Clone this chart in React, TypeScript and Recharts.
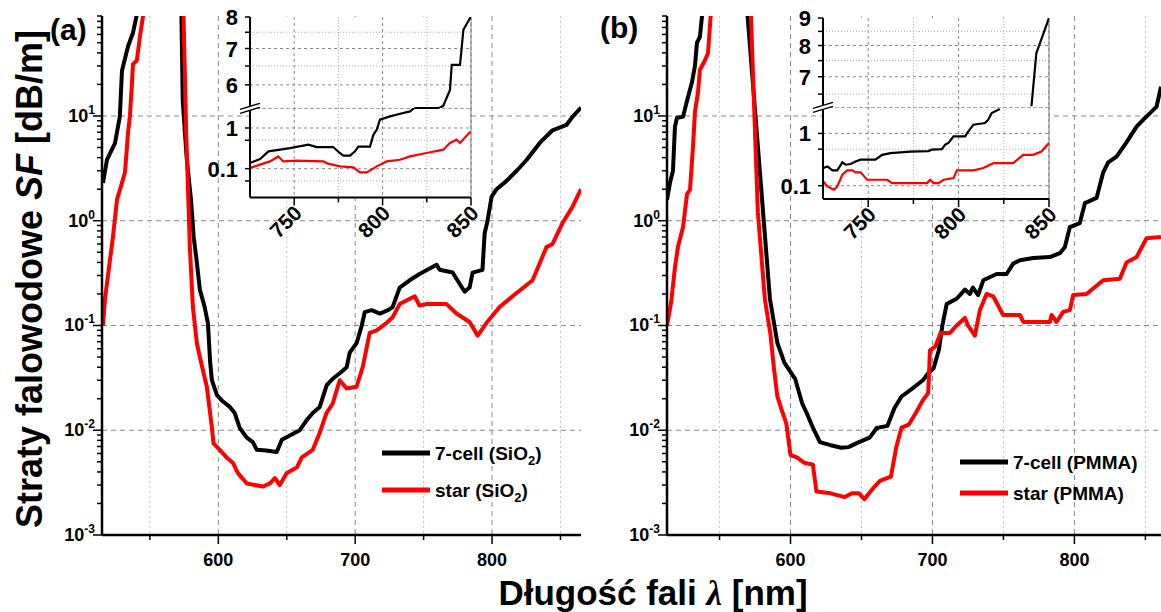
import React from 'react';
import { LineChart, Line, XAxis, YAxis, CartesianGrid, ReferenceLine } from 'recharts';

type Pt = [number, number | null];

const FONT = '"Liberation Sans", Arial, Helvetica, sans-serif';

// panel (a) - SiO2 fibres, [wavelength nm, loss dB/m]
const sio2Cell: Pt[] = [
  [515.7, 2.3], [518.6, 3.8], [524.5, 5.5], [528, 9.8], [529.6, 27], [534, 46], [537.6, 62], [541, 100],
  [556, null],
  [573, 100], [574, 14], [575.6, 6.9], [577, 3.8], [580, 1.6], [582, 0.7], [584.3, 0.4], [586.5, 0.22],
  [590, 0.15], [592.4, 0.105], [594, 0.045], [595.3, 0.03], [599, 0.0216], [603, 0.019], [608.4, 0.0167],
  [612, 0.0146], [615.7, 0.0105], [620.8, 0.0085], [625.2, 0.0077], [628.1, 0.0065], [635, 0.0064],
  [642.7, 0.0062], [646.4, 0.0081], [652.2, 0.0089], [659.5, 0.01], [664.6, 0.0125], [669, 0.0146],
  [674.1, 0.0167], [679.2, 0.027], [683.6, 0.031], [688.7, 0.035], [693.8, 0.04], [696, 0.055],
  [701.1, 0.068], [704.8, 0.1], [707, 0.134], [712, 0.14], [718, 0.13], [724, 0.14], [727.4, 0.15],
  [732.5, 0.23], [739.8, 0.27], [747, 0.31], [759.5, 0.38], [761.7, 0.34], [771.2, 0.32], [776.3, 0.25],
  [780, 0.21], [783.6, 0.23], [785.8, 0.32], [793, 0.34], [794.6, 0.76], [796.7, 1.0], [799.7, 1.7],
  [803.3, 2.0], [810.6, 2.4], [818, 3.0], [825.2, 3.8], [834.7, 5.5], [844.2, 7.3], [854.4, 8.2],
  [858.8, 9.8], [865, 12],
];
const sio2Star: Pt[] = [
  [515.7, 0.1], [517.2, 0.18], [520.8, 0.42], [523, 0.7], [526, 1.6], [529.6, 2.3], [531.8, 2.9], [534, 6.9],
  [535.4, 10], [536.9, 20.6], [537.6, 31], [540.5, 34], [542.7, 57], [545.5, 100],
  [560, null],
  [574.5, 100], [576.5, 7], [579.2, 0.56], [581.4, 0.15], [584.3, 0.068], [586.5, 0.05], [591.6, 0.026],
  [595.3, 0.0106], [596.5, 0.0075], [601, 0.0065], [606, 0.0055], [610.6, 0.0049], [614.3, 0.0039],
  [620.8, 0.0031], [632.5, 0.0029], [637.6, 0.0031], [641.3, 0.0035], [644.9, 0.003], [650, 0.0039],
  [657.3, 0.0044], [661, 0.0055], [669, 0.0065], [674, 0.0094], [679, 0.0146], [683.6, 0.018],
  [688.7, 0.03], [693.8, 0.025], [701, 0.026], [705.5, 0.04], [710.6, 0.085], [715.7, 0.09], [723, 0.106],
  [727.4, 0.12], [732.5, 0.16], [743.5, 0.19], [747, 0.155], [752, 0.16], [766.8, 0.16], [774, 0.13],
  [783.6, 0.108], [789.5, 0.08], [796, 0.106], [805.5, 0.15], [815, 0.19], [829.6, 0.27], [839.8, 0.56],
  [844.2, 0.6], [851.5, 0.95], [858.8, 1.36], [865, 2.0],
];

// panel (b) - PMMA fibres
const pmmaCell: Pt[] = [
  [513, 1.58], [515.1, 2.3], [517.2, 3.0], [518.6, 7.9], [520, 9.6], [524.3, 9.8], [527.1, 14], [530.6, 21],
  [532.7, 30], [534.1, 50], [536.2, 57], [538, 100],
  [555, null],
  [569.5, 100], [585.5, 0.18], [590.75, 0.068], [595.75, 0.044], [603.25, 0.031], [608.25, 0.018],
  [612, 0.014], [615.75, 0.0106], [620.75, 0.0077], [628.25, 0.0072], [635.75, 0.0068], [640.75, 0.0069],
  [648.25, 0.0077], [655.75, 0.0085], [660.75, 0.0105], [668.25, 0.011], [673.25, 0.0163], [678.25, 0.021],
  [685.75, 0.025], [693.25, 0.03], [697, 0.035], [700.75, 0.039], [704.5, 0.058], [707, 0.1], [710, 0.16],
  [717, 0.18], [722.9, 0.22], [726.4, 0.2], [728.5, 0.23], [732.2, 0.195], [735.8, 0.27], [745.2, 0.31],
  [752.2, 0.31], [756.9, 0.39], [761.6, 0.42], [771, 0.44], [782.7, 0.45], [789.8, 0.49], [793.3, 0.56],
  [796.8, 0.87], [803.8, 0.95], [807.4, 1.47], [815.6, 1.65], [820.3, 2.9], [823.8, 3.6], [829.7, 4.1],
  [836.7, 5.6], [843.8, 7.9], [848.4, 9.2], [853.1, 10.6], [857.9, 12.3], [861, 19],
];
const pmmaStar: Pt[] = [
  [513, 0.1], [514.5, 0.13], [516, 0.17], [518.6, 0.36], [520.7, 0.56], [524.3, 0.87], [527.1, 1.8],
  [529.2, 1.97], [531.3, 5.1], [532.7, 11], [534.8, 16.7], [536.2, 27.6], [539.8, 34], [541.9, 40], [544, 100],
  [558, null],
  [572, 100], [577, 1.2], [582, 0.175], [585.75, 0.085], [588.25, 0.04], [590.75, 0.021], [594.5, 0.0146],
  [597, 0.0117], [600, 0.0058], [604.5, 0.0055], [609.5, 0.0049], [615.75, 0.0047], [618.25, 0.0026],
  [628.25, 0.0025], [638.25, 0.0023], [643.25, 0.0025], [648.25, 0.0025], [652, 0.0022], [658.25, 0.0028],
  [663.25, 0.0033], [670.75, 0.0036], [674.5, 0.0069], [678.25, 0.0106], [683.25, 0.0113], [688.25, 0.0146],
  [693.25, 0.0194], [697, 0.0226], [698.25, 0.058], [702, 0.063], [705.75, 0.085], [712.3, 0.085],
  [717, 0.1], [722.9, 0.118], [725, 0.1], [729.9, 0.08], [733.4, 0.14], [738.1, 0.2], [742.8, 0.19],
  [749.8, 0.126], [761.6, 0.126], [764, 0.108], [782.7, 0.108], [783.9, 0.126], [787.4, 0.108],
  [792.1, 0.135], [796.8, 0.14], [799.1, 0.195], [808.5, 0.2], [820.3, 0.27], [832, 0.28], [836.7, 0.4],
  [843.8, 0.45], [850.8, 0.68], [861, 0.7],
];

// insets (broken y axis)
const insetSio2Cell: Pt[] = [
  [725, 0.138], [730.7, 0.173], [735.4, 0.267], [742, 0.293], [747.6, 0.32], [758, 0.39], [762.7, 0.34],
  [772.1, 0.34], [775.9, 0.24], [777.8, 0.21], [781.6, 0.21], [784.4, 0.267], [786.3, 0.35], [792.9, 0.35],
  [794.8, 0.685], [796.7, 0.91], [798.5, 1.6], [804.2, 1.93], [811.7, 2.33], [815.5, 2.56], [818, 3.2],
  [826, 3.9], [832, 4.6], [834.3, 5.49], [838.1, 5.87], [839.1, 6.53], [843.8, 6.53], [845.7, 7.58],
  [849.8, 8.0],
];
const insetSio2Star: Pt[] = [
  [725, 0.104], [730.7, 0.126], [736.3, 0.151], [741, 0.2], [743.8, 0.151], [751.4, 0.157], [766.5, 0.151],
  [769.2, 0.133], [775.9, 0.114], [783.4, 0.108], [787.2, 0.081], [791, 0.081], [796.7, 0.114],
  [802.3, 0.151], [809.8, 0.166], [815.5, 0.2], [824.9, 0.243], [834.3, 0.293], [838.1, 0.43],
  [841.9, 0.52], [843.8, 0.43], [849.8, 0.825],
];
const insetPmmaCell: Pt[] = [
  [725.2, 0.218], [727.4, 0.234], [730.2, 0.196], [732.9, 0.196], [735.7, 0.279], [737.5, 0.252],
  [740.3, 0.26], [743, 0.291], [745.8, 0.314], [754, 0.314], [757.7, 0.39], [762.3, 0.42], [773.3, 0.45],
  [783.4, 0.46], [785.2, 0.49], [790.7, 0.5], [792.6, 0.61], [794.4, 0.66], [797.2, 0.876], [803.6, 0.876],
  [805.4, 1.09], [808.2, 1.47], [814.6, 1.58], [816.4, 1.83], [818.3, 2.45], [822.8, 2.93],
  [830, null],
  [840.3, 6.17], [843, 7.74], [850, 9.0],
];
const insetPmmaStar: Pt[] = [
  [725.2, 0.121], [727.4, 0.097], [731.1, 0.084], [732.9, 0.097], [735.7, 0.162], [738.4, 0.196],
  [741.2, 0.196], [743, 0.18], [745.8, 0.18], [749.4, 0.13], [760.5, 0.13], [763.2, 0.112], [782.5, 0.112],
  [784.3, 0.13], [786.1, 0.112], [788.9, 0.112], [791.7, 0.13], [797.2, 0.14], [799, 0.196], [808.2, 0.196],
  [813.7, 0.218], [819.2, 0.27], [830.2, 0.27], [835.7, 0.39], [841.2, 0.39], [845.8, 0.45], [850, 0.655],
];

// ticks
const decades = [0.001, 0.01, 0.1, 1, 10];
const minorSteps = [2, 3, 4, 5, 6, 7, 8, 9];
const gridDecades = [0.01, 0.1, 1, 10];
const xMajor = [600, 700, 800];
const xMinor = [550, 650, 750, 850];
const insetMajor = [750, 800, 850];
const insetMinor = [775, 825];

const legendA = ['7-cell (SiO', 'star (SiO'];
const legendB = ['7-cell (PMMA)', 'star (PMMA)'];

const yTicks = decades.flatMap((d) => [d, ...minorSteps.map((m) => d * m)]).filter((v) => v <= 90);
const xTicks = [...xMajor, ...xMinor].sort((a, b) => a - b);

const rows = (pts: Pt[]) => pts.map(([nm, v]) => ({ nm, v }));

function MainYTick(props: any) {
  const { x, y, payload } = props;
  const v = payload.value;
  const major = decades.includes(v);
  const exp = Math.round(Math.log10(v));
  return (
    <g>
      <line x1={x - (major ? 9 : 5)} x2={x} y1={y} y2={y} stroke="#000" strokeWidth={1.5} />
      {major && (
        <text x={x - 7} y={y + 6} textAnchor="end" fontSize={18} fontWeight="bold" fontFamily={FONT} fill="#000">
          10<tspan dy={-8} fontSize={12}>{exp}</tspan>
        </text>
      )}
    </g>
  );
}

function MainXTick(props: any) {
  const { x, y, payload } = props;
  const v = payload.value;
  const major = xMajor.includes(v);
  return (
    <g>
      <line x1={x} x2={x} y1={y} y2={y + (major ? 9 : 5)} stroke="#000" strokeWidth={1.5} />
      {major && (
        <text x={x} y={y + 31} textAnchor="middle" fontSize={18} fontWeight="bold" fontFamily={FONT} fill="#000">
          {v}
        </text>
      )}
    </g>
  );
}

function MainPanel({ cell, star, xDomain, left, width, yW, rightM }: any) {
  return (
    <div style={{ position: 'absolute', left, top: 0 }}>
      <LineChart width={width} height={575} margin={{ top: 16, right: rightM, bottom: 0, left: 0 }}>
        <CartesianGrid horizontalValues={gridDecades} verticalValues={xMajor} stroke="#8a8a8a" strokeDasharray="5 4" />
        <CartesianGrid horizontal={false} verticalValues={xMinor} stroke="#c4c4c4" strokeDasharray="2 3" />
        <XAxis type="number" dataKey="nm" domain={xDomain} allowDataOverflow ticks={xTicks} interval={0}
          tickSize={0} tickMargin={0} tickLine={false} tick={MainXTick} height={40}
          axisLine={{ stroke: '#000', strokeWidth: 2.5 }} />
        <YAxis type="number" scale="log" domain={[0.001, 90]} allowDataOverflow ticks={yTicks} interval={0}
          tickSize={0} tickMargin={0} tickLine={false} tick={MainYTick} width={yW}
          axisLine={{ stroke: '#000', strokeWidth: 2.5 }} />
        <Line data={rows(cell)} dataKey="v" stroke="#000" strokeWidth={4} dot={false} strokeLinejoin="round"
          isAnimationActive={false} />
        <Line data={rows(star)} dataKey="v" stroke="#ff0000" strokeWidth={4} dot={false} strokeLinejoin="round"
          isAnimationActive={false} />
      </LineChart>
    </div>
  );
}

type Part = { domain: [number, number]; ticks: number[]; labels: number[]; dashed: number[]; dotted: number[] };
type InsetCfg = { plotLeft: number; plotW: number; upTop: number; breakY: number; bottom: number; upper: Part; lower: Part };

const insetA: InsetCfg = {
  plotLeft: 250, plotW: 221, upTop: 17.3, breakY: 108.3, bottom: 197.7,
  upper: { domain: [5.44, 8], ticks: [6, 6.5, 7, 7.5, 8], labels: [6, 7, 8], dashed: [6, 7], dotted: [6.5, 7.5] },
  lower: { domain: [0.0197, 3.1], ticks: [0.05, 0.1, 0.5, 1], labels: [0.1, 1], dashed: [0.1, 1], dotted: [0.05, 0.5] },
};
const insetB: InsetCfg = {
  plotLeft: 823, plotW: 226, upTop: 18.3, breakY: 107.3, bottom: 199.3,
  upper: { domain: [6.15, 9], ticks: [6.5, 7, 7.5, 8, 8.5, 9], labels: [7, 8, 9], dashed: [7, 8], dotted: [6.5, 7.5, 8.5] },
  lower: { domain: [0.0557, 3.2], ticks: [0.1, 0.5, 1], labels: [0.1, 1], dashed: [0.1, 1], dotted: [0.5] },
};

const insetYTick = (labels: number[]) => (props: any) => {
  const { x, y, payload } = props;
  const v = payload.value;
  return (
    <g>
      <line x1={x - 5} x2={x} y1={y} y2={y} stroke="#000" strokeWidth={1.5} />
      {labels.includes(v) && (
        <text x={x - 12} y={y + 8} textAnchor="end" fontSize={22} fontWeight="bold" fontFamily={FONT} fill="#000">
          {v}
        </text>
      )}
    </g>
  );
};

function InsetXTick(props: any) {
  const { x, y, payload } = props;
  const v = payload.value;
  const major = insetMajor.includes(v);
  return (
    <g>
      <line x1={x} x2={x} y1={y} y2={y + (major ? 8 : 5)} stroke="#000" strokeWidth={1.5} />
      {major && (
        <text transform={`translate(${x + 9},${y + 17}) rotate(-45)`} textAnchor="end" fontSize={21}
          fontWeight="bold" fontFamily={FONT} fill="#000">
          {v}
        </text>
      )}
    </g>
  );
}

function Inset({ cell, star, cfg }: { cell: Pt[]; star: Pt[]; cfg: InsetCfg }) {
  const { plotLeft, plotW, upTop, breakY, bottom, upper, lower } = cfg;
  const lowMax = lower.domain[1];
  const upMin = upper.domain[0];
  const lowPart = (pts: Pt[]) =>
    pts.map(([nm, v]) => ({ nm, v: v == null || v >= upMin ? null : Math.min(v, lowMax) }));
  const upPart = (pts: Pt[]) =>
    pts.map(([nm, v]) => ({ nm, v: v == null || v <= lowMax ? null : Math.max(v, upMin) }));
  const yW = 60;
  const rm = 26;
  const topPad = 14;
  const chartW = yW + plotW + rm;
  const halves = [
    { part: upper, top: upTop - topPad, h: topPad + breakY - upTop, mt: topPad, split: upPart, showX: false },
    { part: lower, top: breakY, h: bottom - breakY + 60, mt: 0, split: lowPart, showX: true },
  ];
  return (
    <>
      {halves.map((hf, i) => (
        <div key={i} style={{ position: 'absolute', left: plotLeft - yW, top: hf.top }}>
          <LineChart width={chartW} height={hf.h} margin={{ top: hf.mt, right: rm, bottom: 0, left: 0 }}>
            <CartesianGrid fill="#fff" horizontalValues={hf.part.dashed} verticalValues={insetMajor}
              stroke="#8a8a8a" strokeDasharray="3 3" />
            <CartesianGrid horizontalValues={hf.part.dotted} verticalValues={insetMinor}
              stroke="#b0b0b0" strokeDasharray="1 2" />
            <XAxis type="number" dataKey="nm" domain={[725, 850]} allowDataOverflow hide={!hf.showX}
              ticks={[...insetMajor, ...insetMinor].sort((a, b) => a - b)} interval={0} tickSize={0} tickMargin={0}
              tickLine={false} tick={InsetXTick} height={60} axisLine={{ stroke: '#000', strokeWidth: 2 }} />
            <YAxis type="number" scale="log" domain={hf.part.domain} allowDataOverflow ticks={hf.part.ticks}
              interval={0} tickSize={0} tickMargin={0} tickLine={false} tick={insetYTick(hf.part.labels)} width={yW}
              axisLine={{ stroke: '#000', strokeWidth: 2 }} />
            <ReferenceLine x={850} stroke="#7a7a7a" strokeWidth={1} />
            {hf.showX && <ReferenceLine y={lowMax} stroke="#555" strokeDasharray="4 2" strokeWidth={1.2} />}
            <Line data={hf.split(cell)} dataKey="v" stroke="#000" strokeWidth={2.2} dot={false}
              isAnimationActive={false} />
            <Line data={hf.split(star)} dataKey="v" stroke="#ff0000" strokeWidth={2.2} dot={false}
              isAnimationActive={false} />
          </LineChart>
        </div>
      ))}
    </>
  );
}

function BreakMark({ x, y }: { x: number; y: number }) {
  return (
    <g>
      <polygon points={`${x - 10},${y + 1} ${x + 10},${y - 5} ${x + 10},${y - 1} ${x - 10},${y + 5}`} fill="#fff" />
      <line x1={x - 10} y1={y + 1} x2={x + 10} y2={y - 5} stroke="#000" strokeWidth={1.4} />
      <line x1={x - 10} y1={y + 5} x2={x + 10} y2={y - 1} stroke="#000" strokeWidth={1.4} />
    </g>
  );
}

function LegendRow({ x, y, color, children }: any) {
  return (
    <g>
      <line x1={x} x2={x + 48} y1={y} y2={y} stroke={color} strokeWidth={5} />
      <text x={x + 53} y={y + 7} fontSize={19}>{children}</text>
    </g>
  );
}

export default function App() {
  return (
    <div style={{ position: 'absolute', left: 0, top: 0, width: 1161, height: 612, background: '#fff', overflow: 'hidden' }}>
      <MainPanel cell={sio2Cell} star={sio2Star} xDomain={[515, 865]} left={0} width={590} yW={102} rightM={9} />
      <MainPanel cell={pmmaCell} star={pmmaStar} xDomain={[513, 861]} left={580} width={581} yW={87} rightM={0} />
      <Inset cell={insetSio2Cell} star={insetSio2Star} cfg={insetA} />
      <Inset cell={insetPmmaCell} star={insetPmmaStar} cfg={insetB} />
      <svg width={1161} height={612} style={{ position: 'absolute', left: 0, top: 0, pointerEvents: 'none' }}
        fontFamily={FONT} fontWeight="bold" fill="#000">
        <text transform="translate(42,279) rotate(-90)" textAnchor="middle" fontSize={36}>
          Straty falowodowe <tspan fontStyle="italic">SF</tspan> [dB/m]
        </text>
        <text x={653} y={605} textAnchor="middle" fontSize={35}>
          Długość fali <tspan fontFamily='"Liberation Serif", serif' fontStyle="italic">λ</tspan> [nm]
        </text>
        <text x={50} y={40} fontSize={30}>(a)</text>
        <text x={600} y={38} fontSize={30}>(b)</text>
        <BreakMark x={insetA.plotLeft} y={insetA.breakY} />
        <BreakMark x={insetB.plotLeft} y={insetB.breakY} />
        <LegendRow x={382} y={453} color="#000">
          {legendA[0]}<tspan dy={5} fontSize={13}>2</tspan><tspan dy={-5}>)</tspan>
        </LegendRow>
        <LegendRow x={382} y={490} color="#ff0000">
          {legendA[1]}<tspan dy={5} fontSize={13}>2</tspan><tspan dy={-5}>)</tspan>
        </LegendRow>
        <LegendRow x={960} y={462} color="#000">{legendB[0]}</LegendRow>
        <LegendRow x={960} y={493} color="#ff0000">{legendB[1]}</LegendRow>
      </svg>
    </div>
  );
}
